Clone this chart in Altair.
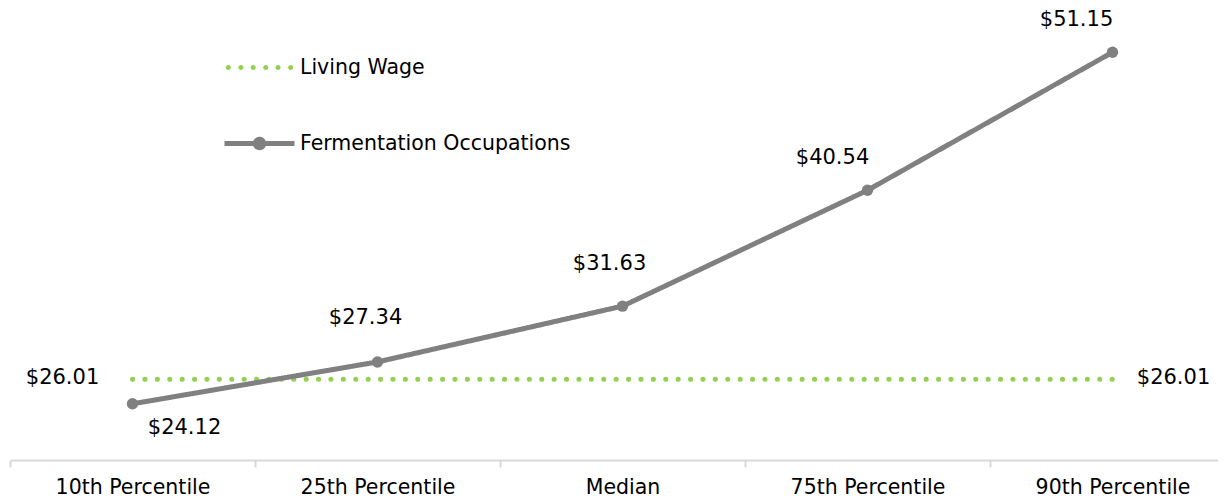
import altair as alt
import pandas as pd

categories = ["10th Percentile", "25th Percentile", "Median", "75th Percentile", "90th Percentile"]
fermentation = [24.12, 27.34, 31.63, 40.54, 51.15]
living_wage = [26.01, 26.01, 26.01, 26.01, 26.01]
series_names = ["Living Wage", "Fermentation Occupations"]

GREEN = "#92D050"
GRAY = "#808080"
FONT = "DejaVu Sans"

rows = []
for c, v in zip(categories, living_wage):
    rows.append({"category": c, "series": series_names[0], "value": v})
for c, v in zip(categories, fermentation):
    rows.append({"category": c, "series": series_names[1], "value": v})
df = pd.DataFrame(rows)

x_enc = alt.X(
    "category:N",
    sort=categories,
    bandPosition=0.5,
    scale=alt.Scale(type="band", paddingInner=0, paddingOuter=0, range=[0, 1225]),
    axis=alt.Axis(
        title=None,
        labelAngle=0,
        labelFont=FONT,
        labelFontSize=20.5,
        labelColor="#000000",
        labelPadding=10,
        domainColor="#d9d9d9",
        domainWidth=2,
        tickColor="#d9d9d9",
        tickWidth=2,
        tickSize=7,
        tickBand="extent",
        grid=False,
    ),
)
y_enc = alt.Y("value:Q", scale=alt.Scale(domain=[19.8, 54.4], zero=False, nice=False), axis=None)

# legend symbol shapes (unit space [-1, 1])
r_dot = 0.072
dot_centres = [-0.89, -0.53, -0.18, 0.18, 0.53, 0.89]
living_path = "".join(
    f"M{c - r_dot:.3f},0A{r_dot},{r_dot},0,1,1,{c + r_dot:.3f},0A{r_dot},{r_dot},0,1,1,{c - r_dot:.3f},0Z"
    for c in dot_centres
)
fermentation_path = "M-1,0H1M-0.12,0A0.12,0.12,0,1,1,0.12,0A0.12,0.12,0,1,1,-0.12,0Z"
is_lw = "datum.value == 'Living Wage'"

legend = alt.Legend(
    orient="none",
    legendX=212,
    legendY=20,
    title=None,
    symbolSize=4900,
    symbolType=alt.ExprRef(expr=is_lw + " ? '" + living_path + "' : '" + fermentation_path + "'"),
    symbolStrokeWidth=alt.ExprRef(expr=is_lw + " ? 0 : 5"),
    symbolFillColor=alt.ExprRef(expr=is_lw + " ? '" + GREEN + "' : '" + GRAY + "'"),
    symbolOpacity=1,
    labelFont=FONT,
    labelFontSize=20.5,
    labelColor="#000000",
    labelOffset=3,
    labelLimit=500,
    rowPadding=25,
)

color_enc = alt.Color("series:N", scale=alt.Scale(domain=series_names, range=[GREEN, GRAY]), legend=legend)
dash_enc = alt.StrokeDash("series:N", scale=alt.Scale(domain=series_names, range=[[0.1, 12.3], [1, 0]]), legend=legend)

lines = alt.Chart(df).mark_line(strokeCap="round", strokeJoin="round").encode(
    x=x_enc,
    y=y_enc,
    color=color_enc,
    strokeDash=dash_enc,
    strokeWidth=alt.StrokeWidth("series:N", scale=alt.Scale(domain=series_names, range=[5, 5]), legend=None),
)

ferm = alt.Chart(df).transform_filter(alt.datum.series == series_names[1])
points = ferm.mark_circle(size=130, opacity=1).encode(x=x_enc, y=y_enc, color=alt.value(GRAY))

label_offsets = {
    "10th Percentile": (52, 24),
    "25th Percentile": (-12, -44),
    "Median": (-13, -42),
    "75th Percentile": (-35, -32),
    "90th Percentile": (-36, -32),
}

layers = [lines, points]
for cat, (dx, dy) in label_offsets.items():
    layers.append(
        ferm.transform_filter(alt.datum.category == cat)
        .transform_calculate(label="'$' + format(datum.value, '.2f')")
        .mark_text(font=FONT, fontSize=21, color="#000000", dx=dx, dy=dy, baseline="middle", align="center")
        .encode(x=x_enc, y=y_enc, text="label:N")
    )

lw = alt.Chart(df).transform_filter(alt.datum.series == series_names[0]).transform_calculate(
    label="'$' + format(datum.value, '.2f')"
)
for cat, dx in [(categories[0], -70), (categories[-1], 61)]:
    layers.append(
        lw.transform_filter(alt.datum.category == cat)
        .mark_text(font=FONT, fontSize=21, color="#000000", dx=dx, dy=-1, baseline="middle", align="center")
        .encode(x=x_enc, y=y_enc, text="label:N")
    )

chart = (
    alt.layer(*layers)
    .resolve_scale(color="shared", strokeDash="shared")
    .properties(
        width=1208,
        height=450,
        autosize=alt.AutoSizeParams(type="none"),
        padding={"left": 2, "top": 2, "right": 0, "bottom": 37},
        background="#ffffff",
    )
    .configure_view(stroke=None)
)

chart.save("out.html", embed_options={"renderer": "svg", "actions": False})
